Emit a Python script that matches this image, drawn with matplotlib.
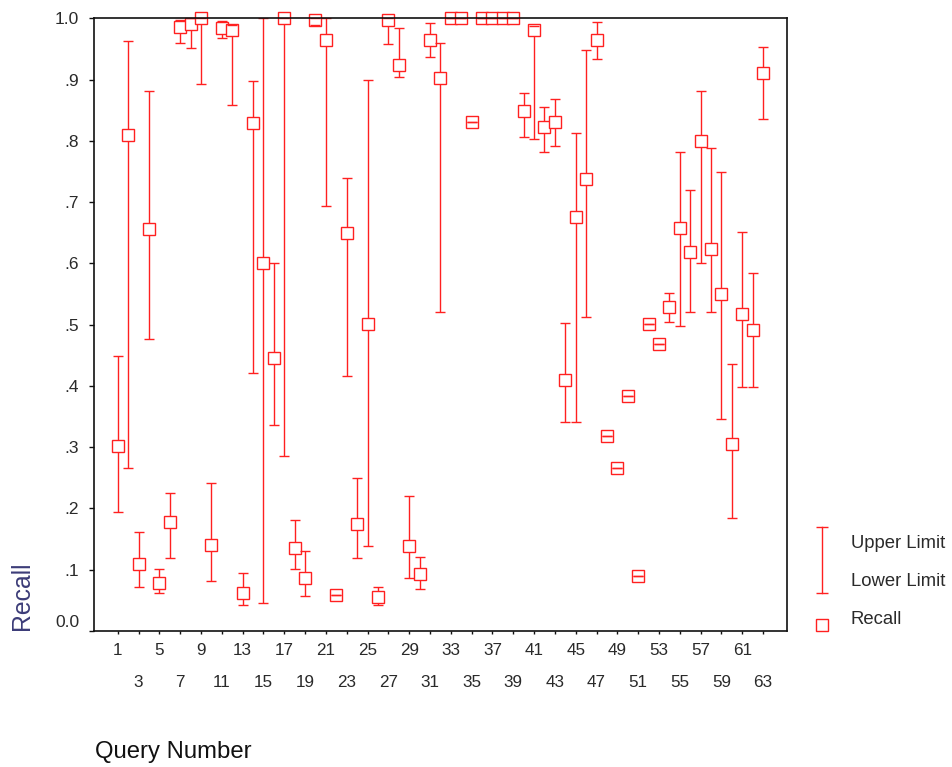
import matplotlib
matplotlib.use('Agg')
import matplotlib.pyplot as plt
import matplotlib.transforms as mtransforms
from matplotlib.lines import Line2D

plt.rcParams['font.family'] = ['Liberation Sans', 'DejaVu Sans']

# ---------------- data ----------------
queries = list(range(1, 64))
recall = [0.302, 0.810, 0.109, 0.656, 0.078, 0.178, 0.985, 0.990, 1.000, 0.141,
          0.984, 0.981, 0.062, 0.829, 0.601, 0.446, 1.000, 0.136, 0.086, 0.997,
          0.965, 0.058, 0.649, 0.175, 0.501, 0.055, 0.997, 0.923, 0.139, 0.093,
          0.965, 0.902, 1.000, 1.000, 0.831, 1.000, 1.000, 1.000, 1.000, 0.848,
          0.981, 0.823, 0.830, 0.409, 0.676, 0.738, 0.965, 0.319, 0.266, 0.384,
          0.090, 0.501, 0.468, 0.529, 0.658, 0.618, 0.799, 0.623, 0.550, 0.305,
          0.517, 0.492, 0.911]
upper = [0.449, 0.963, 0.162, 0.882, 0.102, 0.226, 0.997, 1.000, 1.000, 0.241,
         0.996, 0.989, 0.095, 0.898, 1.000, 0.600, 1.000, 0.181, 0.131, 1.000,
         1.000, 0.058, 0.740, 0.250, 0.899, 0.071, 1.000, 0.984, 0.221, 0.121,
         0.993, 0.960, 1.000, 1.000, 0.831, 1.000, 1.000, 1.000, 1.000, 0.878,
         0.988, 0.855, 0.868, 0.502, 0.813, 0.948, 0.994, 0.319, 0.266, 0.384,
         0.090, 0.501, 0.468, 0.551, 0.782, 0.720, 0.882, 0.789, 0.749, 0.436,
         0.652, 0.585, 0.953]
lower = [0.195, 0.266, 0.071, 0.476, 0.062, 0.119, 0.960, 0.951, 0.893, 0.082,
         0.968, 0.858, 0.042, 0.421, 0.046, 0.337, 0.286, 0.102, 0.057, 0.989,
         0.694, 0.058, 0.417, 0.119, 0.139, 0.042, 0.958, 0.905, 0.087, 0.069,
         0.937, 0.521, 1.000, 1.000, 0.831, 1.000, 1.000, 1.000, 1.000, 0.807,
         0.803, 0.782, 0.792, 0.341, 0.341, 0.512, 0.933, 0.319, 0.266, 0.384,
         0.090, 0.501, 0.468, 0.505, 0.498, 0.520, 0.600, 0.520, 0.346, 0.184,
         0.399, 0.399, 0.836]

x_ticks_row1 = list(range(1, 64, 4))   # 1, 5, ..., 61
x_ticks_row2 = list(range(3, 64, 4))   # 3, 7, ..., 63
y_ticks = [0.0, 0.1, 0.2, 0.3, 0.4, 0.5, 0.6, 0.7, 0.8, 0.9, 1.0]
y_tick_labels = ['0.0', '.1', '.2', '.3', '.4', '.5', '.6', '.7', '.8', '.9', '1.0']

x_label = 'Query Number'
y_label = 'Recall'
legend_labels = ['Upper Limit', 'Lower Limit', 'Recall']

RED = '#ff2020'
TXT = '#2a2a2a'

W, H = 953, 767
fig = plt.figure(figsize=(W / 100, H / 100), dpi=100)
fig.patch.set_facecolor('white')

ax_l, ax_r, ax_t, ax_b = 94, 787, 18.3, 631
ax = fig.add_axes([ax_l / W, 1 - ax_b / H, (ax_r - ax_l) / W, (ax_b - ax_t) / H])

# bars
ax.vlines(queries, lower, upper, colors=RED, linewidth=1.0, zorder=2)
# squares (white filled, drawn over the bars)
ax.plot(queries, recall, linestyle='none', marker='s', markersize=8.1,
        markerfacecolor='white', markeredgecolor=RED, markeredgewidth=1.0,
        clip_on=False, zorder=3)
# caps
ax.plot(queries, upper, linestyle='none', marker='_', markersize=7.8,
        markeredgecolor=RED, markeredgewidth=1.0, zorder=4)
ax.plot(queries, lower, linestyle='none', marker='_', markersize=7.8,
        markeredgecolor=RED, markeredgewidth=1.0, zorder=4)

ax.set_xlim(-1.28, 65.3)
ax.set_ylim(0, 1)

for s in ax.spines.values():
    s.set_linewidth(1.2)
    s.set_color('#111111')
    s.set_zorder(5)

ax.set_xticks(x_ticks_row1)
ax.set_xticklabels([str(v) for v in x_ticks_row1])
ax.set_xticks(x_ticks_row2, minor=True)
ax.set_xticklabels([str(v) for v in x_ticks_row2], minor=True)
ax.tick_params(axis='x', which='major', direction='out', length=2.5, width=1.0,
               pad=6, labelsize=12.3, labelcolor=TXT, color='#111111')
ax.tick_params(axis='x', which='minor', direction='out', length=2.5, width=1.0,
               pad=29.5, labelsize=12.3, labelcolor=TXT, color='#111111')

ax.set_yticks(y_ticks)
ax.set_yticklabels(y_tick_labels)
ax.tick_params(axis='y', direction='out', length=3.6, width=1.0, pad=7,
               labelsize=12.5, labelcolor=TXT, color='#111111')
# shift "0.0" up slightly as in reference
lab0 = ax.get_yticklabels()[0]
lab0.set_transform(lab0.get_transform() +
                   mtransforms.ScaledTranslation(0, 7.5 / 72, fig.dpi_scale_trans))

# axis titles
fig.text(22.5 / W, 1 - 630 / H, y_label, rotation=90, ha='center', va='bottom',
         fontsize=17.8, color='#3c3c78')
fig.text(95 / W, 1 - 758 / H, x_label, ha='left', va='baseline',
         fontsize=17.2, color='#111111')

# legend (manual)
def fx(p):
    return p / W

def fy(p):
    return 1 - p / H

lx = 822.3
fig.add_artist(Line2D([fx(lx), fx(lx)], [fy(526.7), fy(593.3)], color=RED,
                      linewidth=1.0, transform=fig.transFigure))
fig.add_artist(Line2D([fx(lx), fx(lx)], [fy(526.7), fy(593.3)], color=RED,
                      linestyle='none', marker='_', markersize=9, markeredgewidth=1.0,
                      transform=fig.transFigure))
fig.add_artist(Line2D([fx(lx)], [fy(624.5)], color=RED, linestyle='none', marker='s',
                      markersize=8.3, markerfacecolor='white', markeredgecolor=RED,
                      markeredgewidth=1.0, transform=fig.transFigure))
for lab, yc in zip(legend_labels, [543.3, 581.0, 619.3]):
    fig.text(fx(851), fy(yc), lab, ha='left', va='center', fontsize=13.3, color=TXT)

fig.savefig('out.png', dpi=100, facecolor='white')
